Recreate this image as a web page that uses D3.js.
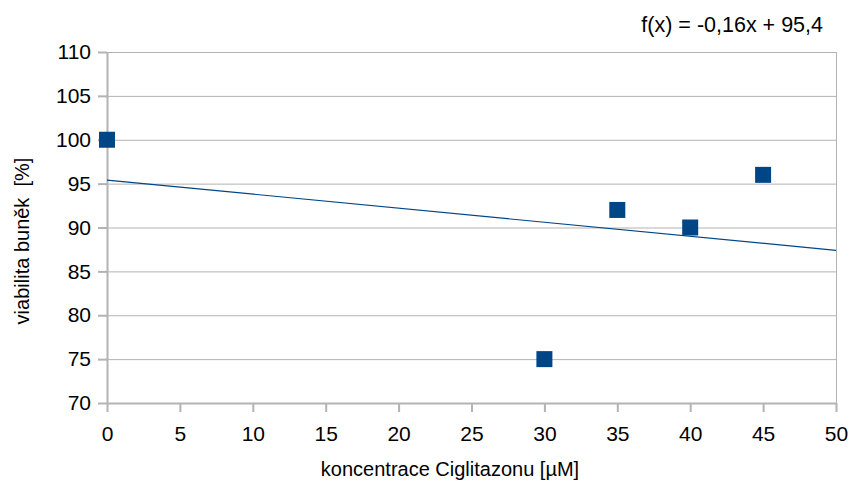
<!DOCTYPE html>
<html>
<head>
<meta charset="utf-8" />
<script src="https://d3js.org/d3.v7.min.js"></script>
<style>
  body { margin: 0; background: #fff; }
  text { font-family: "Liberation Sans", Arial, sans-serif; fill: #000; }
  .grid line { stroke: #b3b3b3; stroke-width: 1; }
  .axis path, .axis line { stroke: #b3b3b3; stroke-width: 2; }
  .axis text { font-size: 21px; }
</style>
</head>
<body>
<svg width="849" height="484"></svg>
<script>
var concentrations = [0, 30, 35, 40, 45];
var viability = [100, 75, 92, 90, 96];
var slope = -0.16, intercept = 95.4;
var xTicks = [0, 5, 10, 15, 20, 25, 30, 35, 40, 45, 50];
var yTicks = [70, 75, 80, 85, 90, 95, 100, 105, 110];

var svg = d3.select("svg");
var m = { left: 107, right: 836, top: 52, bottom: 403 };

var x = d3.scaleLinear().domain([0, 50]).range([m.left, m.right]);
var y = d3.scaleLinear().domain([70, 110]).range([m.bottom, m.top]);

// horizontal gridlines
svg.append("g").attr("class", "grid")
  .selectAll("line").data(yTicks).enter().append("line")
  .attr("x1", m.left).attr("x2", m.right)
  .attr("y1", function(d) { return y(d) + 0.5; })
  .attr("y2", function(d) { return y(d) + 0.5; });

// right border
svg.append("line")
  .attr("x1", m.right + 0.5).attr("x2", m.right + 0.5)
  .attr("y1", m.top).attr("y2", m.bottom)
  .style("stroke", "#b3b3b3");

svg.append("g").attr("class", "axis")
  .attr("transform", "translate(" + m.left + ",0)")
  .call(d3.axisLeft(y).tickValues(yTicks).tickSize(9).tickSizeOuter(0).tickPadding(7));

var xAxis = svg.append("g").attr("class", "axis")
  .attr("transform", "translate(0," + m.bottom + ")")
  .call(d3.axisBottom(x).tickValues(xTicks).tickSize(9).tickSizeOuter(0).tickPadding(6));

xAxis.selectAll("text").attr("dy", "1.08em");

// trend line
svg.append("line")
  .attr("x1", x(0)).attr("y1", y(intercept))
  .attr("x2", x(50)).attr("y2", y(intercept + slope * 50))
  .style("stroke", "#004586").style("stroke-width", 1.2);

// points
var data = concentrations.map(function(c, i) { return { x: c, y: viability[i] }; });
svg.selectAll(".pt").data(data).enter().append("rect")
  .attr("class", "pt")
  .attr("x", function(d) { return x(d.x) - 8; })
  .attr("y", function(d) { return y(d.y) - 8; })
  .attr("width", 16).attr("height", 16)
  .style("fill", "#004586");

// labels
svg.append("text").attr("x", 450).attr("y", 476)
  .attr("text-anchor", "middle").style("font-size", "20px")
  .text("koncentrace Ciglitazonu [µM]");

svg.append("text")
  .attr("transform", "translate(29,241) rotate(-90)")
  .attr("text-anchor", "middle").style("font-size", "20px")
  .style("white-space", "pre")
  .text("viabilita buněk  [%]");

svg.append("text").attr("x", 823).attr("y", 32)
  .attr("text-anchor", "end").style("font-size", "21.5px")
  .text("f(x) = -0,16x + 95,4");
</script>
</body>
</html>
